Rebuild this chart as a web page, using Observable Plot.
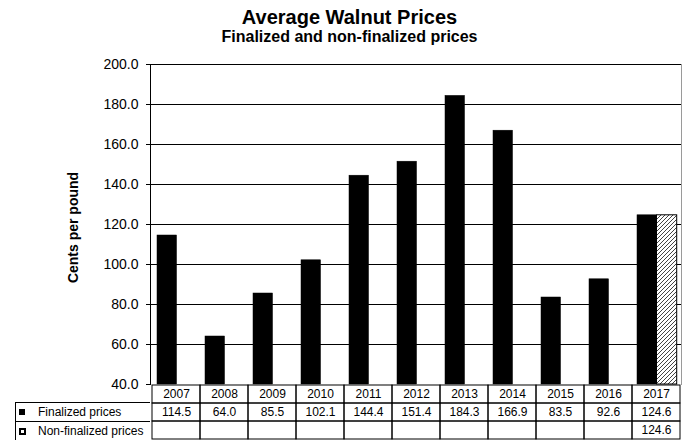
<!DOCTYPE html>
<html><head><meta charset="utf-8">
<script src="https://cdn.jsdelivr.net/npm/d3@7"></script>
<script src="https://cdn.jsdelivr.net/npm/@observablehq/plot@0.6"></script>
<style>
body{margin:0;background:#fff;font-family:"Liberation Sans",Arial,sans-serif;color:#000;}
#wrap{position:relative;width:689px;height:440px;overflow:hidden;background:#fff;}
.t{position:absolute;left:5px;width:689px;text-align:center;font-weight:bold;white-space:nowrap;}
.lg{position:absolute;font-size:12px;line-height:12px;white-space:nowrap;}
.line{position:absolute;background:#000;}
#chart svg{overflow:visible;}
</style></head><body>
<svg width="0" height="0" style="position:absolute"><defs>
<pattern id="hatch" patternUnits="userSpaceOnUse" width="4" height="4">
<rect width="4" height="4" fill="#fff"/>
<path d="M-1,1 l2,-2 M0,4 l4,-4 M3,5 l2,-2" stroke="#444" stroke-width="1"/>
</pattern></defs></svg>
<div id="wrap">
 <div class="t" style="top:7px;font-size:20px;line-height:20px;">Average Walnut Prices</div>
 <div class="t" style="top:28.5px;font-size:16px;line-height:16px;">Finalized and non-finalized prices</div>
 <div id="table" style="position:absolute;left:0;top:384px"></div>
 <div id="chart" style="position:absolute;left:0;top:48px"></div>
 <div id="legend">
  <div class="line" style="left:15px;top:402px;width:135px;height:1px"></div>
  <div class="line" style="left:15px;top:421px;width:135px;height:1px"></div>
  <div class="line" style="left:15px;top:402px;width:1px;height:40px"></div>
  <div style="position:absolute;left:19px;top:409px;width:6px;height:6px;background:#000"></div>
  <div style="position:absolute;left:19px;top:428px;width:3px;height:3px;border:2px solid #000;background:#fff"></div>
  <div class="lg" id="lg1" style="left:38px;top:406px"></div>
  <div class="lg" id="lg2" style="left:38px;top:425px"></div>
 </div>
</div>
<script>
const years = [2007, 2008, 2009, 2010, 2011, 2012, 2013, 2014, 2015, 2016, 2017];
const finalized = [114.5, 64.0, 85.5, 102.1, 144.4, 151.4, 184.3, 166.9, 83.5, 92.6, 124.6];
const nonFinalized = [null, null, null, null, null, null, null, null, null, null, 124.6];
const yDomain = [40, 200];
const yTicks = [40, 60, 80, 100, 120, 140, 160, 180, 200];
const seriesLabels = ["Finalized prices", "Non-finalized prices"];
const yLabel = "Cents per pound";

const font = "'Liberation Sans', Arial, sans-serif";
const finData = years.map((year, i) => ({year, value: finalized[i]}));
const nonData = years.map((year, i) => ({year, value: nonFinalized[i]})).filter(d => d.value != null);

const chart = Plot.plot({
  width: 689, height: 337,
  marginTop: 16, marginBottom: 1, marginLeft: 150, marginRight: 8,
  style: {background: "transparent", fontFamily: font, color: "black", overflow: "visible"},
  x: {type: "band", domain: years, padding: 0, axis: null},
  y: {domain: yDomain, axis: null},
  marks: [
    Plot.ruleY(yTicks.slice(1), {stroke: "black", strokeWidth: 1}),
    Plot.barY(finData, {x: "year", y1: yDomain[0], y2: "value", fill: "black", stroke: "black", strokeWidth: 0.5, insetLeft: 5, insetRight: 23.5}),
    Plot.barY(nonData, {x: "year", y1: yDomain[0], y2: "value", fill: "url(#hatch)", stroke: "black", strokeWidth: 1, insetLeft: 24.5, insetRight: 3.3}),
    Plot.axisY({ticks: yTicks, tickFormat: d3.format(".1f"), tickSize: 4, tickPadding: 8, fontSize: 14, stroke: "black", fill: "black", label: null}),
    Plot.frame({anchor: "left", stroke: "black"}),
    Plot.frame({anchor: "right", stroke: "#9a9a9a"}),
    Plot.text([yLabel], {frameAnchor: "left", textAnchor: "middle", dx: -77, dy: 3, rotate: -90, fontSize: 14, fontWeight: "bold", fill: "black"})
  ]
});
document.getElementById("chart").append(chart);

const rows = ["Year", ...seriesLabels];
const cells = years.flatMap(year => rows.map(row => ({year, row})));
const labels = [
  ...years.map(year => ({year, row: rows[0], text: String(year)})),
  ...years.map((year, i) => ({year, row: rows[1], text: finalized[i] == null ? "" : finalized[i].toFixed(1)})),
  ...years.map((year, i) => ({year, row: rows[2], text: nonFinalized[i] == null ? "" : nonFinalized[i].toFixed(1)}))
];
const table = Plot.plot({
  width: 689, height: 56,
  marginTop: 0, marginBottom: 0, marginLeft: 150, marginRight: 8,
  style: {background: "transparent", fontFamily: font, color: "black"},
  x: {type: "band", domain: years, padding: 0, axis: null},
  y: {type: "band", domain: rows, padding: 0, axis: null},
  marks: [
    Plot.cell(cells, {x: "year", y: "row", fill: "none", stroke: "black", strokeWidth: 1}),
    Plot.text(labels, {x: "year", y: "row", text: "text", fontSize: 12, fill: "black"})
  ]
});
document.getElementById("table").append(table);
document.getElementById("lg1").textContent = seriesLabels[0];
document.getElementById("lg2").textContent = seriesLabels[1];
</script>
</body></html>
